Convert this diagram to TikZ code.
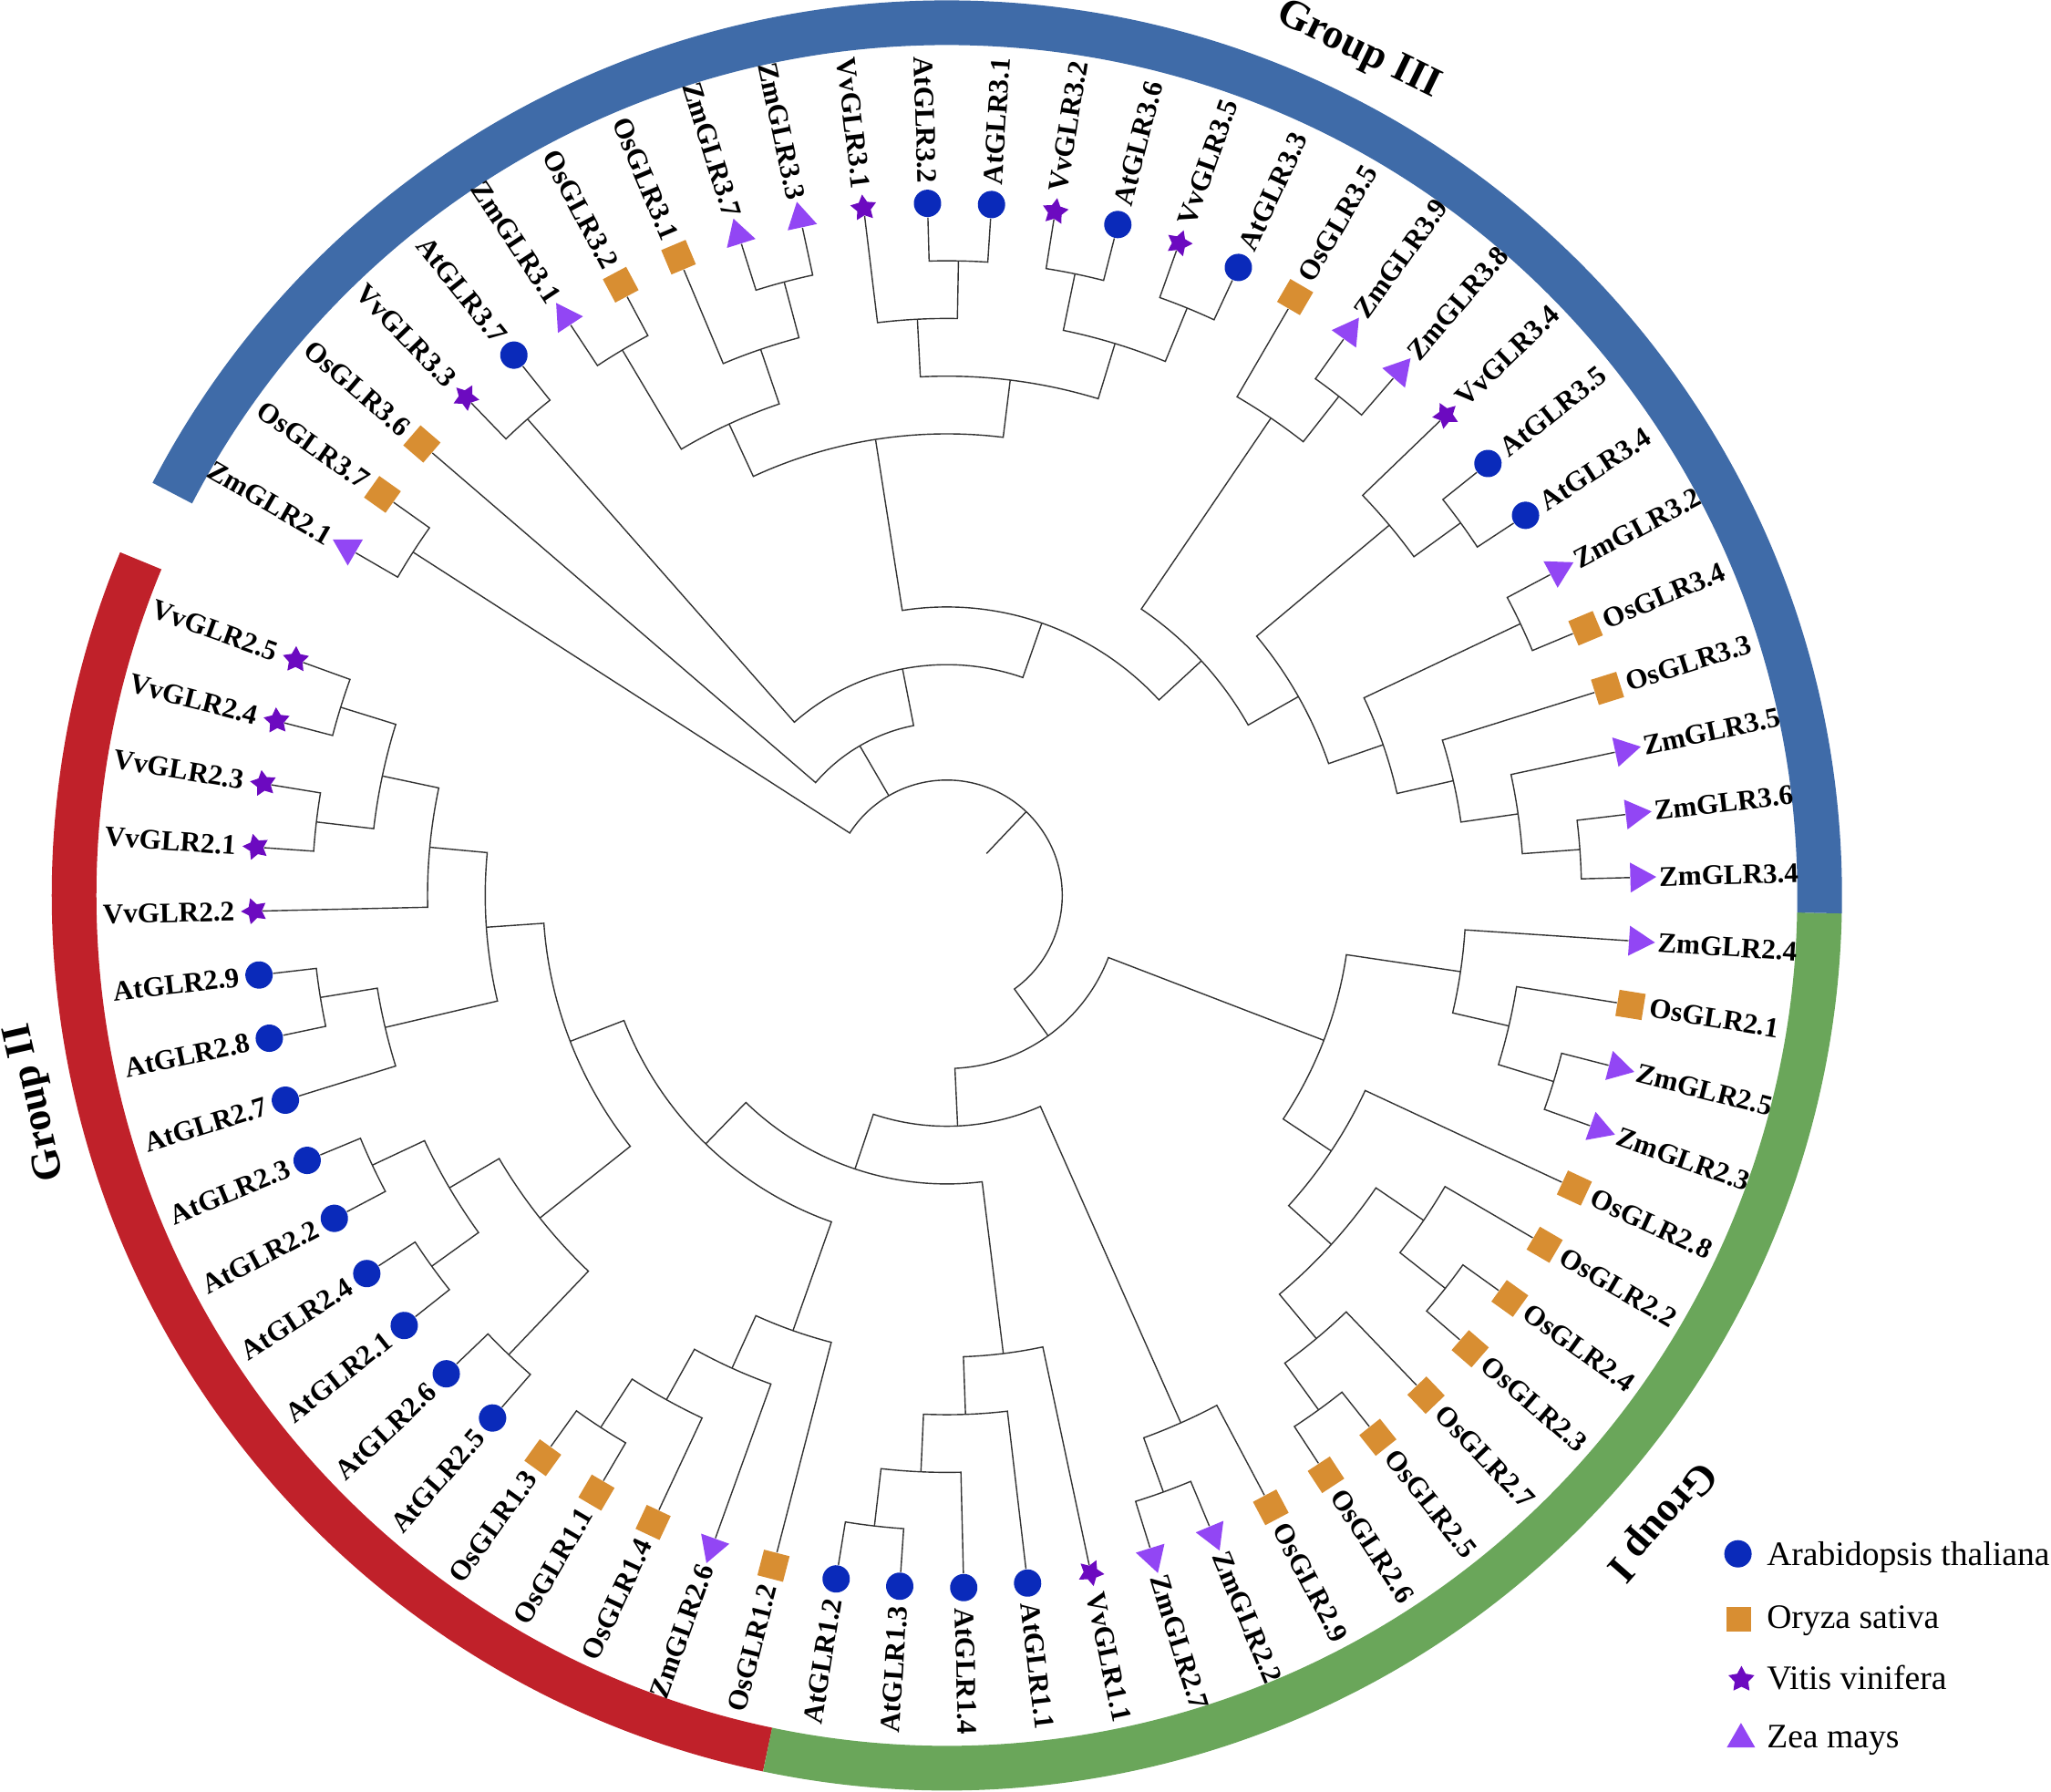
\documentclass[tikz,border=0pt]{standalone}
\usepackage{fontspec}
\setmainfont{Liberation Serif}
\usetikzlibrary{shapes.geometric}

\definecolor{atblue}{RGB}{10,42,186}
\definecolor{osorange}{RGB}{216,142,50}
\definecolor{vvpurple}{RGB}{108,10,192}
\definecolor{zmviolet}{RGB}{146,70,244}
\definecolor{ringblue}{RGB}{63,107,168}
\definecolor{ringred}{RGB}{192,33,42}
\definecolor{ringgreen}{RGB}{106,166,90}

% leaf slots and clade levels
\def\angstart{160.1}
\def\angstep{5.3}
\def\lvl{6.33}
\def\tipR{75.96}
\def\labR{78.1}
\def\ringR{95.75}

% #1 name, #2 slot, #3 marker, #4 label
\newcommand\leaf[4]{%
  \pgfmathsetmacro\lfA{\angstart+\angstep*#2}%
  \pgfmathtruncatemacro\lfL{cos(\lfA)<0}%
  \node[#3, rotate=\lfA-90] (#1) at (\lfA:\tipR) {};
  \ifnum\lfL=1
    \node[lab, anchor=east, rotate=\lfA+180] (l-#1) at (\lfA:\labR) {#4};
  \else
    \node[lab, anchor=west, rotate=\lfA] (l-#1) at (\lfA:\labR) {#4};
  \fi
  \expandafter\xdef\csname ang-#1\endcsname{\lfA}%
}
% #1 name, #2 level, #3 #4 children
\newcommand\clade[4]{%
  \edef\brA{\csname ang-#3\endcsname}%
  \edef\brB{\csname ang-#4\endcsname}%
  \pgfmathsetmacro\brR{#2*\lvl}%
  \pgfmathsetmacro\brM{(\brA+\brB)/2}%
  \draw[branch] (#3) -- (\brA:\brR) arc[start angle=\brA, end angle=\brB, radius=\brR] -- (#4);
  \coordinate (#1) at (\brM:\brR);
  \expandafter\xdef\csname ang-#1\endcsname{\brM}%
}

\begin{document}
\begin{tikzpicture}[
    scale=0.1,
    branch/.style={draw=black!80, line width=0.4pt},
    ring/.style={line width=4.9mm},
    lab/.style={font=\fontsize{8.85}{10}\selectfont\bfseries, inner sep=0pt},
    grp/.style={font=\fontsize{13}{15}\selectfont\bfseries, inner sep=0pt},
    legend/.style={font=\fontsize{10.7}{12}\selectfont, inner sep=0pt, anchor=base west},
    mAt/.style={circle, fill=atblue, minimum size=3mm, inner sep=0pt},
    mOs/.style={rectangle, fill=osorange, minimum size=2.9mm, inner sep=0pt},
    mVv/.style={star, star points=5, star point ratio=1.9, fill=vvpurple, minimum size=3mm, inner sep=0pt},
    mZm/.style={regular polygon, regular polygon sides=3, fill=zmviolet, minimum size=3.8mm, inner sep=0pt}
  ]
  \useasboundingbox (-103.87,-98.26) rectangle (121.13,98.24);

  % group ring
  \draw[ring, ringred] (157.45:\ringR) arc[start angle=157.45, end angle=258.15, radius=\ringR];
  \draw[ring, ringgreen] (258.15:\ringR) arc[start angle=258.15, end angle=358.85, radius=\ringR];
  \draw[ring, ringblue] (358.85:\ringR) arc[start angle=358.85, end angle=512.55, radius=\ringR];
  \node[grp, rotate=-25.95] (g3) at (64.05:103.1) {Group III};
  \node[grp, rotate=102.8] (g2) at (192.8:102.4) {Group II};
  \node[grp, rotate=228.8] (g1) at (318.8:104.0) {Group I};

  % leaves
  \leaf{Vv2-5}{0}{mVv}{VvGLR2.5}
  \leaf{Vv2-4}{1}{mVv}{VvGLR2.4}
  \leaf{Vv2-3}{2}{mVv}{VvGLR2.3}
  \leaf{Vv2-1}{3}{mVv}{VvGLR2.1}
  \leaf{Vv2-2}{4}{mVv}{VvGLR2.2}
  \leaf{At2-9}{5}{mAt}{AtGLR2.9}
  \leaf{At2-8}{6}{mAt}{AtGLR2.8}
  \leaf{At2-7}{7}{mAt}{AtGLR2.7}
  \leaf{At2-3}{8}{mAt}{AtGLR2.3}
  \leaf{At2-2}{9}{mAt}{AtGLR2.2}
  \leaf{At2-4}{10}{mAt}{AtGLR2.4}
  \leaf{At2-1}{11}{mAt}{AtGLR2.1}
  \leaf{At2-6}{12}{mAt}{AtGLR2.6}
  \leaf{At2-5}{13}{mAt}{AtGLR2.5}
  \leaf{Os1-3}{14}{mOs}{OsGLR1.3}
  \leaf{Os1-1}{15}{mOs}{OsGLR1.1}
  \leaf{Os1-4}{16}{mOs}{OsGLR1.4}
  \leaf{Zm2-6}{17}{mZm}{ZmGLR2.6}
  \leaf{Os1-2}{18}{mOs}{OsGLR1.2}
  \leaf{At1-2}{19}{mAt}{AtGLR1.2}
  \leaf{At1-3}{20}{mAt}{AtGLR1.3}
  \leaf{At1-4}{21}{mAt}{AtGLR1.4}
  \leaf{At1-1}{22}{mAt}{AtGLR1.1}
  \leaf{Vv1-1}{23}{mVv}{VvGLR1.1}
  \leaf{Zm2-7}{24}{mZm}{ZmGLR2.7}
  \leaf{Zm2-2}{25}{mZm}{ZmGLR2.2}
  \leaf{Os2-9}{26}{mOs}{OsGLR2.9}
  \leaf{Os2-6}{27}{mOs}{OsGLR2.6}
  \leaf{Os2-5}{28}{mOs}{OsGLR2.5}
  \leaf{Os2-7}{29}{mOs}{OsGLR2.7}
  \leaf{Os2-3}{30}{mOs}{OsGLR2.3}
  \leaf{Os2-4}{31}{mOs}{OsGLR2.4}
  \leaf{Os2-2}{32}{mOs}{OsGLR2.2}
  \leaf{Os2-8}{33}{mOs}{OsGLR2.8}
  \leaf{Zm2-3}{34}{mZm}{ZmGLR2.3}
  \leaf{Zm2-5}{35}{mZm}{ZmGLR2.5}
  \leaf{Os2-1}{36}{mOs}{OsGLR2.1}
  \leaf{Zm2-4}{37}{mZm}{ZmGLR2.4}
  \leaf{Zm3-4}{38}{mZm}{ZmGLR3.4}
  \leaf{Zm3-6}{39}{mZm}{ZmGLR3.6}
  \leaf{Zm3-5}{40}{mZm}{ZmGLR3.5}
  \leaf{Os3-3}{41}{mOs}{OsGLR3.3}
  \leaf{Os3-4}{42}{mOs}{OsGLR3.4}
  \leaf{Zm3-2}{43}{mZm}{ZmGLR3.2}
  \leaf{At3-4}{44}{mAt}{AtGLR3.4}
  \leaf{At3-5}{45}{mAt}{AtGLR3.5}
  \leaf{Vv3-4}{46}{mVv}{VvGLR3.4}
  \leaf{Zm3-8}{47}{mZm}{ZmGLR3.8}
  \leaf{Zm3-9}{48}{mZm}{ZmGLR3.9}
  \leaf{Os3-5}{49}{mOs}{OsGLR3.5}
  \leaf{At3-3}{50}{mAt}{AtGLR3.3}
  \leaf{Vv3-5}{51}{mVv}{VvGLR3.5}
  \leaf{At3-6}{52}{mAt}{AtGLR3.6}
  \leaf{Vv3-2}{53}{mVv}{VvGLR3.2}
  \leaf{At3-1}{54}{mAt}{AtGLR3.1}
  \leaf{At3-2}{55}{mAt}{AtGLR3.2}
  \leaf{Vv3-1}{56}{mVv}{VvGLR3.1}
  \leaf{Zm3-3}{57}{mZm}{ZmGLR3.3}
  \leaf{Zm3-7}{58}{mZm}{ZmGLR3.7}
  \leaf{Os3-1}{59}{mOs}{OsGLR3.1}
  \leaf{Os3-2}{60}{mOs}{OsGLR3.2}
  \leaf{Zm3-1}{61}{mZm}{ZmGLR3.1}
  \leaf{At3-7}{62}{mAt}{AtGLR3.7}
  \leaf{Vv3-3}{63}{mVv}{VvGLR3.3}
  \leaf{Os3-6}{64}{mOs}{OsGLR3.6}
  \leaf{Os3-7}{65}{mOs}{OsGLR3.7}
  \leaf{Zm2-1}{66}{mZm}{ZmGLR2.1}

  % group II and I clades
  \clade{c-a}{11}{Vv2-5}{Vv2-4}
  \clade{c-b}{11}{Vv2-3}{Vv2-1}
  \clade{c-c}{10}{c-a}{c-b}
  \clade{c-d}{9}{c-c}{Vv2-2}
  \clade{c-e}{11}{At2-9}{At2-8}
  \clade{c-f}{10}{c-e}{At2-7}
  \clade{c-g}{8}{c-d}{c-f}
  \clade{c-h}{11}{At2-3}{At2-2}
  \clade{c-i}{11}{At2-4}{At2-1}
  \clade{c-j}{10}{c-h}{c-i}
  \clade{c-k}{11}{At2-6}{At2-5}
  \clade{c-l}{9}{c-j}{c-k}
  \clade{c-m}{7}{c-g}{c-l}
  \clade{c-n}{11}{Os1-3}{Os1-1}
  \clade{c-o}{10}{c-n}{Os1-4}
  \clade{c-p}{9}{c-o}{Zm2-6}
  \clade{c-q}{8}{c-p}{Os1-2}
  \clade{c-r}{6}{c-m}{c-q}
  \clade{c-s}{11}{At1-2}{At1-3}
  \clade{c-t}{10}{c-s}{At1-4}
  \clade{c-u}{9}{c-t}{At1-1}
  \clade{c-v}{8}{c-u}{Vv1-1}
  \clade{c-w}{5}{c-r}{c-v}
  \clade{c-x}{11}{Zm2-7}{Zm2-2}
  \clade{c-y}{10}{c-x}{Os2-9}
  \clade{c-z}{4}{c-w}{c-y}
  \clade{d-a}{11}{Os2-6}{Os2-5}
  \clade{d-b}{10}{d-a}{Os2-7}
  \clade{d-c}{11}{Os2-3}{Os2-4}
  \clade{d-d}{10}{d-c}{Os2-2}
  \clade{d-e}{9}{d-b}{d-d}
  \clade{d-f}{8}{d-e}{Os2-8}
  \clade{d-g}{11}{Zm2-3}{Zm2-5}
  \clade{d-h}{10}{d-g}{Os2-1}
  \clade{d-i}{9}{d-h}{Zm2-4}
  \clade{d-j}{7}{d-f}{d-i}
  \clade{d-k}{3}{c-z}{d-j}

  % group III clades
  \clade{e-a}{11}{Zm3-4}{Zm3-6}
  \clade{e-b}{10}{e-a}{Zm3-5}
  \clade{e-c}{9}{e-b}{Os3-3}
  \clade{e-d}{11}{Os3-4}{Zm3-2}
  \clade{e-e}{8}{e-c}{e-d}
  \clade{e-f}{11}{At3-4}{At3-5}
  \clade{e-g}{10}{e-f}{Vv3-4}
  \clade{e-h}{7}{e-e}{e-g}
  \clade{e-i}{11}{Zm3-8}{Zm3-9}
  \clade{e-j}{10}{e-i}{Os3-5}
  \clade{e-k}{6}{e-h}{e-j}
  \clade{e-l}{11}{At3-3}{Vv3-5}
  \clade{e-m}{11}{At3-6}{Vv3-2}
  \clade{e-n}{10}{e-l}{e-m}
  \clade{e-o}{11}{At3-1}{At3-2}
  \clade{e-p}{10}{e-o}{Vv3-1}
  \clade{e-q}{9}{e-n}{e-p}
  \clade{e-r}{11}{Zm3-3}{Zm3-7}
  \clade{e-s}{10}{e-r}{Os3-1}
  \clade{e-t}{11}{Os3-2}{Zm3-1}
  \clade{e-u}{9}{e-s}{e-t}
  \clade{e-v}{8}{e-q}{e-u}
  \clade{e-w}{5}{e-k}{e-v}
  \clade{e-x}{11}{At3-7}{Vv3-3}
  \clade{e-y}{4}{e-w}{e-x}
  \clade{e-z}{3}{e-y}{Os3-6}
  \clade{f-a}{11}{Os3-7}{Zm2-1}

  % root
  \clade{root}{2}{d-k}{f-a}
  \draw[branch] (root) -- (\brM:\lvl);
  \edef\yA{\csname ang-e-z\endcsname}
  \draw[branch] (e-z) -- (\yA:2*\lvl);

  % legend
  \node[mAt] (lg-at) at (86.79,-72.23) {};
  \node[mOs, minimum size=2.7mm] (lg-os) at (86.88,-79.42) {};
  \node[mVv] (lg-vv) at (87.17,-86.02) {};
  \node[mZm, minimum size=3.6mm] (lg-zm) at (87.12,-92.58) {};
  \node[legend] (lt-at) at (89.89,-73.48) {Arabidopsis thaliana};
  \node[legend] (lt-os) at (89.89,-80.4) {Oryza sativa};
  \node[legend] (lt-vv) at (89.89,-87.1) {Vitis vinifera};
  \node[legend] (lt-zm) at (89.89,-93.5) {Zea mays};
\end{tikzpicture}
\end{document}
